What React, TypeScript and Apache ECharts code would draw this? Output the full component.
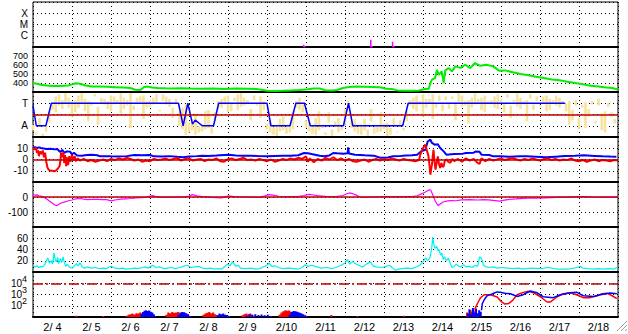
import React, { useEffect, useRef } from 'react';
import * as echarts from 'echarts';

type P = [number, number | null];

// ---- labels ----
const dateLabels = ['2/ 4', '2/ 5', '2/ 6', '2/ 7', '2/ 8', '2/ 9', '2/10', '2/11', '2/12', '2/13', '2/14', '2/15', '2/16', '2/17', '2/18'];
const flareClassLabels: Record<string, string> = { '0': 'C', '1': 'M', '2': 'X' };
const sectorLabels: Record<string, string> = { '1': 'T', '-1': 'A' };
const fluxBaseLabel = '10';
const fluxExponents = [2, 3, 4];

// ---- data (x = days since 2/4 00:00) ----
const flareDays = [6.94, 8.66, 9.22];
const flareLevels = [-0.8, -0.35, -0.53];

const speed: P[] = [
  [0, 400], [0.1, 392], [0.2, 380], [0.35, 372], [0.5, 366], [0.7, 368], [0.9, 372], [1.0, 385], [1.1, 398], [1.2, 392],
  [1.35, 372], [1.5, 362], [1.7, 360], [1.9, 358], [2.1, 354], [2.3, 350], [2.5, 345], [2.62, 325], [2.75, 322], [2.85, 355],
  [2.95, 360], [3.05, 350], [3.2, 345], [3.4, 342], [3.6, 340], [3.8, 342], [4.0, 338], [4.3, 336], [4.6, 338], [4.9, 334],
  [5.2, 338], [5.5, 335], [5.75, 332], [5.9, 322], [6.0, 315], [6.2, 312], [6.4, 314], [6.6, 318], [6.8, 322], [6.92, 326],
  [7.05, 330], [7.2, 340], [7.35, 338], [7.5, 320], [7.65, 318], [7.8, 322], [7.95, 344], [8.1, 356], [8.3, 360], [8.5, 358],
  [8.7, 356], [8.9, 352], [9.05, 336], [9.2, 333], [9.35, 318], [9.5, 314], [9.7, 314], [9.9, 316], [10.05, 333], [10.15, 335],
  [10.19, 400], [10.23, 437], [10.31, 455], [10.36, 548], [10.4, 492], [10.48, 529], [10.53, 400], [10.57, 540], [10.66, 566], [10.74, 529],
  [10.83, 585], [10.96, 568], [11.08, 603], [11.21, 566], [11.33, 622], [11.46, 592], [11.63, 603], [11.8, 585], [11.95, 537], [12.1, 540],
  [12.3, 520], [12.5, 500], [12.7, 485], [12.9, 470], [13.1, 455], [13.3, 440], [13.5, 430], [13.7, 415], [13.9, 400], [14.1, 385],
  [14.3, 370], [14.5, 360], [14.7, 350], [14.85, 345], [15.0, 328],
];

const imfSector: P[] = [
  [0, 0.8], [0.085, -1], [0.33, -1], [0.47, 1], [3.73, 1], [3.85, -1], [3.97, 1], [4.09, -0.85], [4.16, -0.5], [4.34, -1],
  [4.63, -1], [4.76, 1], [6.0, 1], [6.1, -1], [6.59, -1], [6.74, 1], [6.96, 1], [7.11, -1], [7.96, -1], [8.09, 1],
  [8.2, -1], [9.48, -1], [9.62, 1], [13.64, 1],
];

// IMF angle spread in 2-hour bins from 2/4 00:00: one end and the other end of each bin's spread
const phiBinHours = 2;
const phiEndA = [
  -1.4, -1.8, -1.1, -1.9, -1.5, -0.7,
  0.4, 1.6, 0.8, 1.3, 1.9, 0.6, 1.2, 0.2, 1.7, 1.0, 1.4, -0.6, 1.1, 1.8, 0.7, 1.5, 0.9, 1.2, 0.3, 1.6, 1.0, 1.9, 0.5, 1.3,
  -1.2, 0.8, 1.5, 1.1, 1.7, 0.6, 1.3, 0.9, 1.8, 0.4, 1.2, 1.6, 0.7, -0.3, 1.4,
  0.2, -1.3, 0.9, -1.6, -0.4, -1.8, -1.0, -1.5, 0.3, -1.2, -1.7, -0.6,
  0.5, 1.4, 0.9, 1.7, 0.3, 1.2, 1.8, 0.7, 1.5, 1.0, -0.5, 1.3, 0.8, 1.6, 0.4,
  -0.8, -1.6, -1.1, -1.9, -0.4, -1.4, -1.7, -0.9, -1.3,
  0.6, 1.5, 0.9,
  -0.5, -1.5, -1.0, -1.8, 0.3, -1.2, -1.6, -0.7, -1.9, -1.1, -0.3, -1.4, -0.9,
  1.2,
  -0.6, -1.5, -1.1, -1.8, -0.4, -1.3, 0.5, -1.7, -1.0, -1.5, -0.8, -1.9, -1.2, -0.3, -1.6, -1.0, -1.4, -0.6,
  0.8, 1.5, 0.3, 1.2, 1.8, 0.6, 1.4, -0.4, 1.0, 1.7, 0.9, 1.3, 0.5, 1.6, 1.1, 1.9, 0.7, 1.2, -0.8, 1.5, 0.9, 1.4, 0.4, 1.7,
  1.0, 1.3, 0.6, 1.8, 1.1, 0.2, 1.5, 0.8, 1.3, 1.9, 0.5, 1.2, -0.6, 1.4, 0.9, 1.6, 0.7, 1.1, 1.7, 0.4, 1.3, 0.8, 1.5, 1.0,
  0.3, 1.2, -0.5, 0.8, -1.3, 0.6, 1.1, -0.2, 0.9, -0.8, 1.4, 0.1, -1.6, 0.7, 0.2, -0.4, 0.5,
];
const phiEndB = [
  -0.9, -1.6, -0.3, -1.7, -1.0, 0.2,
  1.1, 0.2, 1.8, 0.5, 1.0, 1.5, -0.2, 1.3, 0.6, 1.9, 0.3, 1.2, 0.8, 1.6, -0.9, 1.0, 1.4, 0.5, 1.7, 0.9, 1.3, 0.1, 1.5, 0.8,
  1.9, 0.4, 1.1, 1.6, -0.4, 1.2, 0.7, 1.5, 1.0, 0.3, 1.8, 0.9, 1.4, 0.6, 1.0,
  -1.0, 0.6, -1.8, -0.7, -1.4, 0.1, -1.6, -0.9, -1.3, 0.4, -1.1, 0.2,
  1.2, 0.6, 1.6, 0.2, 1.1, 1.5, 0.4, 1.9, 0.8, 1.3, 0.5, 1.7, 1.0, -0.3, 1.2,
  -1.3, -0.5, -1.8, -0.9, -1.5, -0.2, -1.1, -1.6, 0.3,
  1.2, 0.4, 0.2,
  -1.2, -0.7, -1.7, -0.3, -1.4, -1.0, -1.8, 0.2, -1.3, -0.6, -1.6, -1.1, 0.5,
  0.6,
  -1.2, -0.4, -1.7, -0.9, -1.4, -1.9, -0.6, -1.1, -1.6, 0.2, -1.3, -0.7, -1.8, -1.0, -1.5, -0.5, -1.2, 0.3,
  1.3, 0.5, 1.7, 0.9, -0.2, 1.4, 1.0, 1.8, 0.6, 1.2, 0.3, 1.6, 1.0, 1.4, -0.5, 1.1, 1.7, 0.8, 1.3, 0.6, 1.9, 1.0, 1.5, 0.2,
  1.2, 0.9, 1.6, 0.5, 1.4, 1.0, 1.8, -0.3, 1.1, 0.7, 1.5, 0.9, 1.3, 1.8, 0.4, 1.2, 0.8, 1.6, 0.3, 1.4, 1.0, 1.7, 0.6, 1.2,
  1.0, -0.9, 0.4, 1.3, -0.3, 0.9, -1.2, 0.5, 1.2, -0.6, 0.8, -1.4, 0.3, 1.0, -0.2, -0.8,
];

const bt: P[] = [
  [0, 10.5], [0.05, 11], [0.1, 10.3], [0.15, 10.8], [0.2, 10.2], [0.27, 9.8], [0.35, 9.3], [0.45, 9.5], [0.55, 9.0], [0.62, 9.3],
  [0.66, 8], [0.7, 6.5], [0.75, 8.5], [0.8, 6], [0.87, 7.2], [0.95, 7], [1.0, 4.5], [1.05, 6], [1.13, 3.6], [1.25, 3.4],
  [1.38, 4], [1.5, 4.2], [1.65, 3.8], [1.72, 2.8], [1.85, 3], [2.0, 2.8], [2.2, 2.6], [2.4, 3], [2.6, 4], [2.8, 3.8],
  [3.0, 4], [3.1, 2.8], [3.3, 2.6], [3.5, 3], [3.7, 2.4], [3.85, 2], [4.0, 2.6], [4.2, 3], [4.34, 3.4], [4.5, 3.2],
  [4.7, 3.5], [4.9, 4], [5.02, 4.3], [5.2, 3.6], [5.4, 3.4], [5.6, 3.4], [5.8, 3.0], [6.0, 2.8], [6.2, 3.2], [6.4, 3.4],
  [6.6, 3.4], [6.8, 3.8], [6.95, 5.8], [7.05, 5.5], [7.2, 4.5], [7.35, 3.4], [7.47, 2.8], [7.6, 3.6], [7.7, 5.8], [7.8, 5.5],
  [7.96, 5.2], [8.07, 5.5], [8.08, 10.8], [8.1, 5.4], [8.26, 4.3], [8.5, 3.8], [8.74, 3.4], [8.9, 1.5], [9.1, 1.8], [9.23, 2.8],
  [9.4, 3], [9.55, 3.6], [9.72, 3.7], [9.85, 4.3], [9.95, 7.2], [10.06, 8.7], [10.12, 16], [10.19, 17.6], [10.23, 14.7], [10.3, 13.2],
  [10.38, 13.5], [10.44, 10.2], [10.53, 7.2], [10.6, 4.3], [10.8, 4.9], [11.0, 5], [11.1, 5.8], [11.3, 6], [11.35, 7.2], [11.45, 6.8],
  [11.5, 4.3], [11.7, 4], [11.8, 2.8], [12.0, 2.8], [12.2, 2.5], [12.5, 2.9], [12.66, 2.8], [12.9, 2.4], [13.15, 1.9], [13.4, 2.5],
  [13.64, 3.1], [13.9, 3.4], [14.13, 3.7], [14.4, 3.2], [14.61, 2.8], [14.8, 2.6], [14.96, 2.5],
];

const bz: P[] = [
  [0, 10], [0.04, 9], [0.08, 10.5], [0.1, 6], [0.13, 8], [0.15, 3], [0.18, 7], [0.22, 5], [0.25, 8], [0.28, 2],
  [0.31, 6], [0.34, -2], [0.37, -7], [0.4, -9], [0.45, -10], [0.5, -10], [0.55, -10.5], [0.6, -9.5], [0.64, -8], [0.68, -6],
  [0.7, -2], [0.72, 6], [0.75, 2], [0.78, 6.5], [0.8, -3], [0.82, 4], [0.85, -6], [0.88, 2], [0.9, -5], [0.93, 3],
  [0.96, -2], [1.0, 4], [1.03, -1], [1.07, 3], [1.1, -1.5], [1.15, 1], [1.2, -1], [1.3, 0.5], [1.4, -1.5], [1.5, -0.5],
  [1.6, -2], [1.7, -1], [1.8, 0], [1.9, -1.5], [2.0, 0.5], [2.1, -0.5], [2.2, 1], [2.3, 0], [2.4, 1.5], [2.5, 0.5],
  [2.6, -1], [2.7, 0], [2.8, -2], [2.9, -1], [3.0, -1.5], [3.1, 0.5], [3.2, -0.5], [3.3, 0], [3.4, 1], [3.5, -0.5],
  [3.6, 0.5], [3.7, 1.5], [3.8, -1], [3.9, 0.5], [4.0, 1], [4.1, -1], [4.2, 0], [4.3, 0.5], [4.4, -1.5], [4.5, 0],
  [4.6, -0.5], [4.7, 1], [4.8, -1.5], [4.9, -2], [5.0, 0.5], [5.1, 1], [5.2, -0.5], [5.3, 0.5], [5.4, 1.5], [5.5, -0.5],
  [5.6, 0], [5.7, -1], [5.8, 0.5], [5.9, -0.5], [6.0, -1.5], [6.1, 0], [6.2, -2], [6.3, -1], [6.4, 0.5], [6.5, -0.5],
  [6.6, 1], [6.7, 0], [6.8, 1.5], [6.9, 0.5], [7.0, 2.8], [7.05, -2], [7.1, 1], [7.2, -2.5], [7.3, 0.5], [7.4, -1],
  [7.5, 1.5], [7.6, 0], [7.7, 2], [7.8, -0.5], [7.9, 1], [8.0, -1], [8.1, 0.5], [8.2, -1.5], [8.3, -2], [8.4, -1],
  [8.5, 0], [8.6, -2], [8.7, -0.5], [8.8, 0.5], [8.9, -1], [9.0, 0.5], [9.1, -0.5], [9.2, 1], [9.3, 0], [9.4, -1],
  [9.5, 0.5], [9.6, -0.5], [9.7, -1], [9.8, -1.5], [9.9, -0.5], [9.93, 4.3], [10.0, 10.2], [10.06, 13.2], [10.1, 8], [10.14, 3],
  [10.17, -6], [10.19, -13.5], [10.21, -8], [10.23, -4.6], [10.25, 3], [10.27, 8.7], [10.29, 0], [10.32, -9], [10.35, -3], [10.38, 2.8],
  [10.41, -4], [10.44, -7.6], [10.47, -3], [10.5, -6.5], [10.53, -6], [10.56, -1], [10.6, 0], [10.65, -2], [10.7, -3], [10.75, 0.5],
  [10.8, -1.5], [10.9, 0.5], [11.0, -2], [11.1, 1], [11.2, -1], [11.3, 0.5], [11.4, -3], [11.45, -4], [11.5, 1], [11.6, -1.5],
  [11.7, 0.5], [11.8, -1], [11.9, 0], [12.0, 1], [12.1, -0.5], [12.2, 0.5], [12.3, 1.5], [12.4, 0], [12.5, -1], [12.6, 0.5],
  [12.7, -0.5], [12.8, 1], [12.9, 0], [13.0, -1], [13.1, 0.5], [13.2, 1], [13.3, -0.5], [13.4, 0.5], [13.5, -1], [13.6, 0],
  [13.7, -0.5], [13.8, 1], [13.9, -1], [14.0, -1.5], [14.1, -0.5], [14.2, -2], [14.3, -1], [14.4, 0], [14.5, -1.5], [14.6, -0.5],
  [14.7, -1], [14.8, -1.5], [14.9, -0.5], [15.0, -1],
];

const dst: P[] = [
  [0, 17], [0.05, 12], [0.1, 14], [0.15, 8], [0.23, 5], [0.3, -5], [0.36, -15], [0.43, -28], [0.5, -42], [0.57, -55],
  [0.61, -58], [0.66, -50], [0.72, -40], [0.8, -34], [0.91, -25], [1.0, -20], [1.1, -12], [1.21, -10], [1.3, -14], [1.4, -17],
  [1.6, -15], [1.75, -18], [1.89, -17], [2.01, -26], [2.1, -20], [2.25, -14], [2.38, -12], [2.5, -10], [2.65, -6], [2.87, -2],
  [2.95, 2], [3.07, 9], [3.15, 3], [3.36, -2], [3.6, -1], [3.85, 0], [4.0, 6], [4.09, 16], [4.2, 8], [4.34, 3],
  [4.6, -2], [4.83, -6], [4.95, 2], [5.02, 7], [5.15, 2], [5.32, 0], [5.6, -1], [5.81, -2], [5.95, 8], [6.05, 16],
  [6.15, 12], [6.3, 5], [6.55, 2], [6.79, 3], [6.95, 10], [7.08, 18], [7.15, 15], [7.28, 9], [7.5, 4], [7.76, 3],
  [7.95, 10], [8.05, 22], [8.11, 27], [8.2, 22], [8.26, 16], [8.35, 5], [8.45, -2], [8.6, -1], [8.74, 0], [9.0, 2],
  [9.23, 3], [9.5, 2], [9.72, 3], [9.85, 8], [9.92, 16], [10.05, 32], [10.16, 49], [10.2, 45], [10.26, 9], [10.32, -30],
  [10.39, -57], [10.45, -45], [10.5, -35], [10.6, -28], [10.7, -24], [10.85, -25], [10.99, -19], [11.2, -18], [11.4, -20], [11.55, -18],
  [11.68, -19], [11.85, -24], [11.97, -28], [12.05, -22], [12.17, -17], [12.4, -12], [12.66, -8], [12.9, -8], [13.15, -6], [13.4, -3],
  [13.64, -2], [13.9, 1], [14.12, 3], [14.35, 0], [14.61, -2], [14.8, -1], [15.0, -2],
];

const density: P[] = [
  [0, 12], [0.05, 9], [0.1, 11], [0.15, 8], [0.2, 10], [0.25, 9], [0.3, 13], [0.35, 21], [0.38, 25], [0.42, 16],
  [0.47, 20], [0.5, 14], [0.54, 34], [0.57, 22], [0.6, 18], [0.63, 26], [0.66, 15], [0.7, 24], [0.74, 17], [0.77, 27],
  [0.8, 18], [0.84, 10], [0.88, 14], [0.91, 11], [0.95, 8], [1.01, 7], [1.05, 10], [1.11, 15], [1.15, 11], [1.21, 16],
  [1.26, 9], [1.31, 7], [1.4, 9], [1.5, 7], [1.6, 8], [1.7, 6], [1.8, 7], [1.89, 6], [1.95, 9], [2.01, 10],
  [2.1, 7], [2.2, 6], [2.3, 7], [2.38, 5], [2.5, 6], [2.6, 7], [2.7, 6], [2.8, 8], [2.87, 9], [2.95, 7],
  [3.02, 10], [3.07, 12], [3.15, 8], [3.25, 9], [3.36, 6], [3.45, 7], [3.55, 8], [3.65, 6], [3.75, 8], [3.85, 10],
  [3.95, 12], [4.05, 8], [4.15, 9], [4.25, 10], [4.34, 7], [4.45, 6], [4.55, 7], [4.65, 5], [4.75, 6], [4.83, 5],
  [4.9, 9], [4.98, 14], [5.05, 11], [5.12, 18], [5.2, 10], [5.27, 12], [5.32, 7], [5.45, 6], [5.6, 7], [5.7, 5],
  [5.81, 6], [5.9, 9], [6.0, 12], [6.05, 16], [6.12, 10], [6.2, 11], [6.3, 8], [6.4, 6], [6.55, 7], [6.7, 6],
  [6.79, 5], [6.9, 8], [6.98, 13], [7.05, 10], [7.15, 12], [7.28, 9], [7.4, 7], [7.55, 8], [7.65, 6], [7.76, 8],
  [7.9, 12], [8.0, 16], [8.06, 22], [8.12, 14], [8.2, 19], [8.26, 15], [8.35, 12], [8.45, 9], [8.55, 14], [8.65, 18],
  [8.72, 11], [8.8, 9], [8.94, 8], [9.05, 10], [9.14, 12], [9.22, 7], [9.3, 3], [9.36, 5], [9.45, 6], [9.6, 7],
  [9.72, 6], [9.82, 9], [9.92, 12], [10.0, 18], [10.06, 25], [10.12, 20], [10.18, 26], [10.22, 40], [10.25, 62], [10.28, 48],
  [10.31, 42], [10.35, 46], [10.38, 38], [10.41, 40], [10.45, 30], [10.48, 34], [10.52, 22], [10.55, 27], [10.6, 20], [10.65, 25],
  [10.7, 15], [10.74, 8], [10.8, 10], [10.85, 14], [10.9, 11], [10.96, 9], [11.04, 13], [11.1, 9], [11.19, 10], [11.26, 8],
  [11.34, 12], [11.4, 10], [11.45, 27], [11.5, 24], [11.55, 12], [11.6, 10], [11.68, 8], [11.8, 9], [11.9, 7], [12.0, 8],
  [12.17, 7], [12.3, 6], [12.45, 7], [12.55, 5], [12.66, 6], [12.8, 7], [12.95, 6], [13.1, 7], [13.24, 8], [13.35, 6],
  [13.5, 5], [13.64, 5], [13.8, 6], [13.95, 8], [14.03, 10], [14.1, 7], [14.22, 6], [14.35, 5], [14.5, 6], [14.61, 5],
  [14.75, 6], [14.9, 5], [14.96, 8], [15.0, 7],
];

// low-level flux histograms (each sample drawn as a column from the panel floor)
const redLowFlux: P[] = [
  [1.12, 13], [1.8, 12],
  [2.4, 13], [2.45, 16], [2.5, 18], [2.55, 20], [2.6, 17], [2.65, 22], [2.7, 20], [2.75, 25], [2.8, 22], [2.85, 20], [2.9, 16], [2.95, 12],
  [3.42, 16], [3.47, 25], [3.52, 22], [3.57, 28], [3.62, 24], [3.67, 25], [3.72, 28], [3.77, 22], [3.82, 18],
  [4.37, 16], [4.42, 20], [4.47, 24], [4.52, 28], [4.57, 22], [4.62, 25], [4.67, 18], [4.72, 14],
  [5.37, 14], [5.42, 18], [5.47, 20], [5.52, 17], [5.57, 20], [5.62, 16], [5.67, 13],
  [6.32, 16], [6.37, 25], [6.42, 32], [6.47, 40], [6.52, 36], [6.57, 38], [6.62, 30], [6.67, 22], [6.72, 15],
  [7.65, 15], [8.32, 12], [9.52, 13],
  [11.13, 25], [11.17, 15], [11.22, 40], [11.27, 30], [11.3, 50],
];

const blueLowFlux: P[] = [
  [2.78, 18], [2.82, 28], [2.86, 36], [2.9, 40], [2.94, 35], [2.98, 38], [3.02, 30], [3.06, 25], [3.1, 18], [3.14, 12],
  [3.73, 16], [3.78, 25], [3.83, 28], [3.88, 26], [3.93, 22], [3.98, 18], [4.03, 12],
  [4.73, 14], [4.78, 20], [4.83, 18], [4.88, 20], [4.93, 16], [4.98, 15], [5.03, 12],
  [5.48, 12], [5.55, 18], [5.62, 16], [5.7, 18], [5.78, 15], [5.86, 17], [5.94, 14], [6.02, 16], [6.1, 12],
  [6.58, 16], [6.63, 28], [6.68, 35], [6.73, 32], [6.78, 30], [6.83, 25], [6.88, 22], [6.93, 18], [6.98, 14], [7.03, 12],
  [11.15, 20], [11.19, 50], [11.23, 18], [11.28, 63], [11.32, 25], [11.36, 56], [11.4, 22], [11.44, 40], [11.48, 30],
];

const redFlux: P[] = [
  [11.33, 50], [11.38, 123], [11.47, 490], [11.57, 955], [11.64, 955], [11.75, 900], [11.9, 600], [12.0, 250], [12.1, 140], [12.2, 160],
  [12.3, 300], [12.41, 955], [12.57, 1549], [12.7, 1905], [12.83, 1445], [13.01, 631], [13.18, 214], [13.26, 214], [13.44, 631], [13.6, 1175],
  [13.78, 1445], [13.95, 891], [14.11, 525], [14.29, 525], [14.46, 776], [14.59, 1175], [14.72, 1318], [14.85, 776], [14.97, 427],
];

const blueFlux: P[] = [
  [11.5, 40], [11.52, 150], [11.58, 400], [11.65, 800], [11.77, 1096], [11.9, 1700], [11.98, 1549], [12.1, 1300], [12.24, 1175], [12.41, 676],
  [12.55, 900], [12.75, 2042], [12.92, 1445], [13.08, 631], [13.34, 525], [13.52, 955], [13.78, 1445], [13.95, 1549], [14.11, 776], [14.37, 676],
  [14.55, 955], [14.8, 1349], [14.97, 1175],
];

const dayMin = 0;
const dayMax = 15;
const fluxMin = 10;
const fluxMax = 100000;

// ---- build ----
const FONT = '"Liberation Sans", Arial, Helvetica, sans-serif';
const FS = 10;
const toData = (arr: P[]) => arr.map(([d, v]) => [d, v === null ? '-' : v]);
const columns = (arr: P[], floor: number) => {
  const out: any[] = [];
  arr.forEach(([d, v]) => { out.push([d, floor], [d, v], [d, '-']); });
  return out;
};

function buildOption(): any {
  const tops = [2, 47, 92, 137, 182, 227, 272];
  const grids = tops.map((t) => ({
    left: 33, right: 10, top: t, height: 45,
    show: true, borderColor: '#000', borderWidth: 1, backgroundColor: 'transparent',
    containLabel: false, outerBoundsMode: 'none',
  }));
  const dotted = { color: '#000', type: [1, 3], width: 1 };
  const xAxes: any[] = tops.map((_, i) => ({
    type: 'value', gridIndex: i, min: dayMin, max: dayMax, interval: 1,
    axisLabel: { show: false }, axisTick: { show: false },
    axisLine: { show: true, onZero: false, lineStyle: { color: '#000', width: 2 } },
    splitLine: { show: true, lineStyle: dotted },
  }));
  xAxes.push({
    type: 'category', gridIndex: 6, data: dateLabels, boundaryGap: true, position: 'bottom',
    axisLine: { show: false }, axisTick: { show: false }, splitLine: { show: false },
    axisLabel: { show: true, color: '#000', fontSize: 11, fontFamily: FONT, margin: 4, interval: 0 },
  });
  const yBase = (i: number, extra: any) => ({
    type: 'value', gridIndex: i, position: 'left',
    axisLine: { show: false }, axisTick: { show: false },
    splitLine: { show: true, lineStyle: dotted },
    ...extra,
    axisLabel: { color: '#000', fontSize: FS, fontFamily: FONT, margin: 5, ...(extra.axisLabel || {}) },
  });
  const yAxes: any[] = [
    yBase(0, { min: -1, max: 3, interval: 1, axisLabel: { formatter: (v: number) => flareClassLabels[String(v)] || '' } }),
    yBase(1, { min: 300, max: 800, interval: 100, axisLabel: { fontSize: 9, lineHeight: 8, formatter: (v: number) => (v > 300 && v < 800 ? String(v) : '') } }),
    yBase(2, { min: -2, max: 2, interval: 1, axisLabel: { formatter: (v: number) => sectorLabels[String(v)] || '' } }),
    yBase(3, { min: -20, max: 20, interval: 10, axisLabel: { formatter: (v: number) => (Math.abs(v) < 20 ? String(v) : '') } }),
    yBase(4, { min: -200, max: 100, interval: 100, axisLabel: { formatter: (v: number) => (v === 0 || v === -100 ? String(v) : '') } }),
    yBase(5, { min: 0, max: 80, interval: 20, axisLabel: { formatter: (v: number) => (v > 0 && v < 80 ? String(v) : '') } }),
    yBase(6, {
      type: 'log', logBase: 10, min: fluxMin, max: fluxMax,
      axisLabel: {
        margin: 11,
        formatter: (v: number) => (fluxExponents.includes(Math.round(Math.log10(v))) ? fluxBaseLabel : ''),
      },
    }),
    // superscript exponents for the flux panel labels
    yBase(6, {
      type: 'log', logBase: 10, min: fluxMin, max: fluxMax, splitLine: { show: false },
      axisLabel: {
        margin: 6, fontSize: 9, verticalAlign: 'bottom', lineHeight: 9,
        formatter: (v: number) => {
          const e = Math.round(Math.log10(v));
          return fluxExponents.includes(e) ? String(e) : '';
        },
      },
    }),
  ];

  const refLine = (y: number, type: any = 'solid') => ({
    silent: true, symbol: 'none', label: { show: false },
    lineStyle: { color: '#c00000', width: 1.5, type },
    data: [{ yAxis: y }],
  });

  const flareData: any[] = [];
  flareDays.forEach((d, i) => {
    flareData.push([d, flareLevels[i]], [d, -0.97], [d + 0.05, -0.97], [d + 0.05, '-']);
  });

  const phiData: any[] = [];
  phiEndA.forEach((v, i) => {
    const d = (i * phiBinHours) / 24;
    phiData.push([d, v], [d, phiEndB[i] ?? v], [d, '-']);
  });

  const line = (x: number, y: number, data: any[], color: string, width: number, extra: any = {}) => ({
    type: 'line', xAxisIndex: x, yAxisIndex: y, data, showSymbol: false, symbol: 'none',
    lineStyle: { color, width }, itemStyle: { color }, connectNulls: false, animation: false, ...extra,
  });

  const series = [
    line(0, 0, flareData, '#ff00ff', 1.5),
    line(1, 1, toData(speed), '#00ee00', 2),
    line(2, 2, phiData, '#f7e39c', 2.6, { markLine: refLine(0) }),
    line(2, 2, toData(imfSector), '#0000ff', 1.5),
    line(3, 3, toData(bt), '#0000ff', 2, { markLine: refLine(0) }),
    line(3, 3, toData(bz), '#ff0000', 2),
    line(4, 4, toData(dst), '#ff00ff', 1.2, { markLine: refLine(0) }),
    line(5, 5, toData(density), '#00f0f0', 1.2),
    line(6, 6, columns(redLowFlux, fluxMin), '#ff0000', 2),
    line(6, 6, columns(blueLowFlux, fluxMin), '#0000ff', 2),
    line(6, 6, toData(redFlux), '#ff0000', 1.5, { markLine: refLine(10000, [10, 3, 2, 3]) }),
    line(6, 6, toData(blueFlux), '#0000ff', 1.5),
  ];

  return {
    animation: false,
    backgroundColor: '#ffffff',
    textStyle: { fontFamily: FONT },
    grid: grids,
    xAxis: xAxes,
    yAxis: yAxes,
    series,
    graphic: [
      { type: 'line', shape: { x1: 627, y1: 321, x2: 617, y2: 331 }, style: { stroke: '#a0a0a0', lineWidth: 1 }, silent: true },
      { type: 'line', shape: { x1: 627, y1: 325, x2: 621, y2: 331 }, style: { stroke: '#a0a0a0', lineWidth: 1 }, silent: true },
      { type: 'line', shape: { x1: 627, y1: 329, x2: 625, y2: 331 }, style: { stroke: '#a0a0a0', lineWidth: 1 }, silent: true },
    ],
  };
}

export default function App() {
  const ref = useRef<HTMLDivElement>(null);
  useEffect(() => {
    if (!ref.current) return;
    const chart = echarts.init(ref.current, null, { renderer: 'svg' });
    chart.setOption(buildOption());
    return () => chart.dispose();
  }, []);
  return <div ref={ref} style={{ position: 'absolute', left: 0, top: 0, width: 628, height: 334 }} />;
}
